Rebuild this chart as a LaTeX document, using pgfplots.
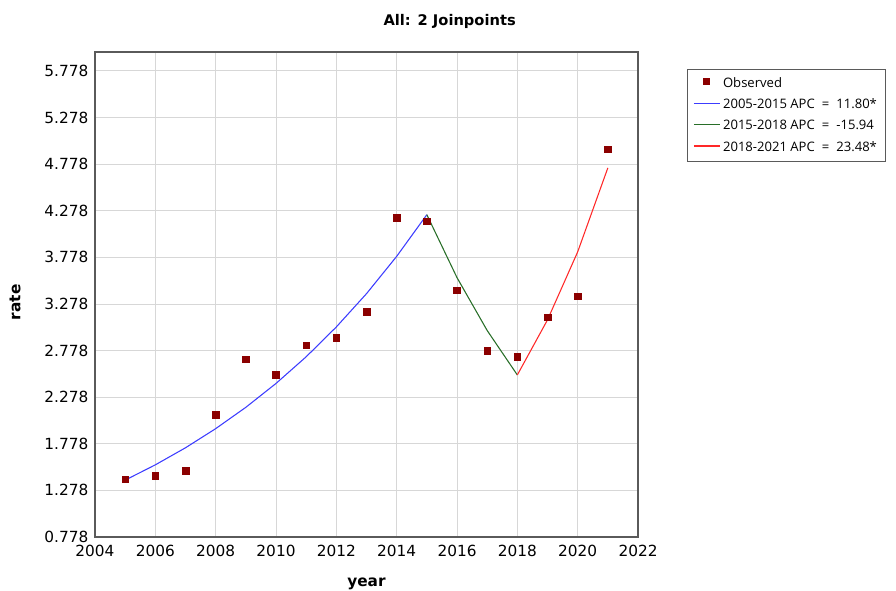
\documentclass[border=0pt]{standalone}
\usepackage{pgfplots}
\pgfplotsset{compat=1.18}
\usepackage{fontspec}
\setmainfont{DejaVu Sans}
\newfontfamily\legfont{Open Sans}
\definecolor{obsred}{RGB}{139,0,0}
\definecolor{lblue}{RGB}{60,60,255}
\definecolor{lgreen}{RGB}{40,110,40}
\definecolor{lred}{RGB}{255,40,40}
\definecolor{gridgray}{RGB}{215,215,215}
\definecolor{axgray}{RGB}{90,90,90}
\begin{document}
\begin{tikzpicture}
\useasboundingbox (-71.25pt,-39.75pt) rectangle (600.75pt,402.75pt);
\begin{axis}[
  at={(0,0)}, anchor=south west,
  scale only axis, width=407.25pt, height=363.75pt,
  xmin=2004, xmax=2022, ymin=0.778, ymax=5.98,
  xtick={2004,2006,...,2022},
  ytick={0.778,1.278,1.778,2.278,2.778,3.278,3.778,4.278,4.778,5.278,5.778},
  yticklabels={0.778,1.278,1.778,2.278,2.778,3.278,3.778,4.278,4.778,5.278,5.778},
  /pgf/number format/1000 sep={},
  /pgf/number format/assume math mode=true,
  tick label style={font=\fontsize{11.5}{13}\selectfont, text=black},
  xticklabel style={yshift=-2.5pt},
  yticklabel style={xshift=-1.5pt},
  major tick length=0pt,
  grid=major,
  grid style={gridgray, line width=0.6pt},
  axis line style={axgray, line width=0.8pt},
  legend style={at={(1.09,0.965)}, anchor=north west, draw=axgray, line width=0.6pt,
    font=\legfont\fontsize{9.8}{12}\selectfont, row sep=3.2pt, inner xsep=4.5pt, inner ysep=4pt,
    legend cell align=left},
]
\addplot[only marks, mark=square*, mark size=2.5pt, mark options={fill=obsred, draw=obsred}, color=obsred,
  legend image code/.code={\fill[obsred] (0.25cm,-0.02cm) rectangle (0.41cm,0.14cm);}]
coordinates {
(2005,1.398) (2006,1.437) (2007,1.488) (2008,2.087) (2009,2.685) (2010,2.517)
(2011,2.835) (2012,2.918) (2013,3.197) (2014,4.205) (2015,4.165) (2016,3.426)
(2017,2.775) (2018,2.713) (2019,3.136) (2020,3.359) (2021,4.936)
};
\addlegendentry{Observed}
\addplot[lblue, line width=0.8pt,
  legend image code/.code={\draw[lblue, line width=1pt] (0cm,0.04cm) -- (0.68cm,0.04cm);}] coordinates {
(2005,1.388) (2006,1.552) (2007,1.735) (2008,1.940) (2009,2.169) (2010,2.425)
(2011,2.711) (2012,3.031) (2013,3.388) (2014,3.788) (2015,4.235)
};
\addlegendentry{2005-2015 APC \;=\; 11.80*}
\addplot[lgreen, line width=0.8pt,
  legend image code/.code={\draw[lgreen, line width=1pt] (0cm,0.04cm) -- (0.68cm,0.04cm);}] coordinates {
(2015,4.235) (2016,3.560) (2017,2.993) (2018,2.516)
};
\addlegendentry{2015-2018 APC \;=\; -15.94}
\addplot[lred, line width=0.8pt,
  legend image code/.code={\draw[lred, line width=1pt] (0cm,0.04cm) -- (0.68cm,0.04cm);}] coordinates {
(2018,2.516) (2019,3.107) (2020,3.836) (2021,4.737)
};
\addlegendentry{2018-2021 APC \;=\; 23.48*}
\end{axis}
\node[font=\bfseries\fontsize{11}{13}\selectfont] at (266pt,386.5pt) {All: 2 Joinpoints};
\node[font=\bfseries\fontsize{11.5}{13}\selectfont] at (203.6pt,-35pt) {year};
\node[font=\bfseries\fontsize{11.5}{13}\selectfont, rotate=90] at (-60pt,176pt) {rate};
\end{tikzpicture}
\end{document}
